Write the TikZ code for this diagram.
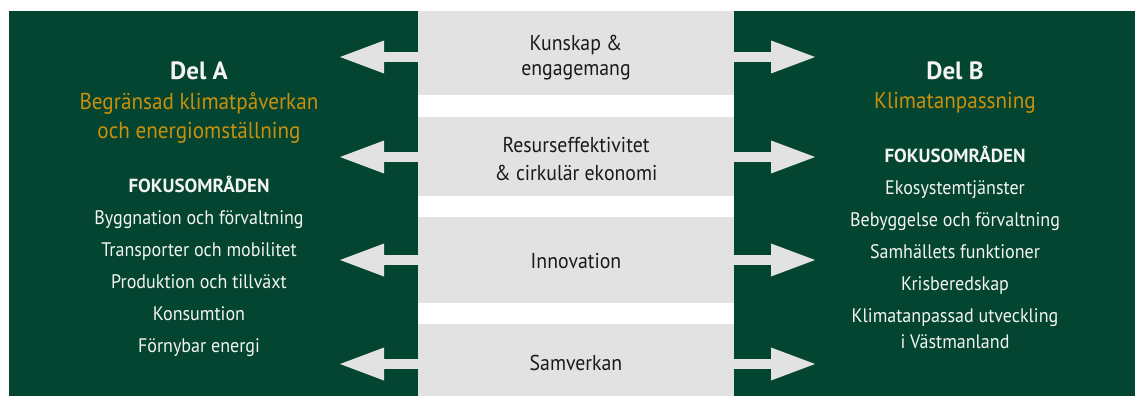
\documentclass[tikz,border=0pt]{standalone}
\usepackage{fontspec}
\setmainfont{PT Sans}
\newfontfamily\narrowsans{PT Sans}[FakeStretch=0.92]
\usetikzlibrary{arrows.meta}
\definecolor{deepgreen}{HTML}{034530}
\definecolor{bandgray}{HTML}{E2E2E2}
\definecolor{gold}{HTML}{C98F0D}
\definecolor{ink}{HTML}{1A1A1A}
\definecolor{paper}{HTML}{F4F4F4}

\begin{document}
\begin{tikzpicture}[x=1pt,y=-1pt,
  band/.style={fill=bandgray, draw=none, inner sep=0pt, outer sep=0pt, minimum width=316pt},
  bandtext/.style={anchor=base, text=ink, font=\narrowsans\fontsize{21.5}{25}\selectfont},
  head/.style={anchor=base, text=paper, font=\fontsize{25}{30}\selectfont\bfseries},
  sub/.style={anchor=base, text=gold, font=\narrowsans\fontsize{23}{27}\selectfont},
  caps/.style={anchor=base, text=paper, font=\fontsize{19}{23}\selectfont\bfseries},
  item/.style={anchor=base, text=paper, font=\narrowsans\fontsize{19.6}{24}\selectfont},
  flow/.style={draw=bandgray, line width=10.5pt,
    -{Triangle[length=44pt, width=33pt, line width=0pt]}}
]
% page and the two green panels
\fill[white] (0,0) rectangle (1135,396);
\useasboundingbox (0,0) rectangle (1135,396);
\fill[deepgreen] (9,11) rectangle (418,396);
\fill[deepgreen] (734,11) rectangle (1135,396);

% grey theme bands in the middle
\node[band, minimum height=84pt] (b1) at (576,53) {};
\node[band, minimum height=79pt] (b2) at (576,156.5) {};
\node[band, minimum height=86pt] (b3) at (576,260) {};
\node[band, minimum height=72pt] (b4) at (576,360) {};

\node[bandtext] (t1a) at (576,50.5) {Kunskap \&};
\node[bandtext] (t1b) at (576,76) {engagemang};
\node[bandtext] (t2a) at (576,152) {Resurseffektivitet};
\node[bandtext] (t2b) at (576,180) {\& cirkulär ekonomi};
\node[bandtext] (t3) at (576,268) {Innovation};
\node[bandtext] (t4) at (576,370) {Samverkan};

% arrow tips out to both parts
\coordinate (l1) at (340,57);  \coordinate (r1) at (815,57);
\coordinate (l2) at (340,157); \coordinate (r2) at (815,157);
\coordinate (l3) at (340,260); \coordinate (r3) at (815,260);
\coordinate (l4) at (340,364); \coordinate (r4) at (815,364);
\foreach \i in {1,2,3,4}{
  \draw[flow] (b\i.west |- l\i) -- (l\i);
  \draw[flow] (b\i.east |- r\i) -- (r\i);
}

% Del A
\node[head] (dela) at (199,80) {Del A};
\node[sub] (dela1) at (199,109) {Begränsad klimatpåverkan};
\node[sub] (dela2) at (199,138) {och energiomställning};
\node[caps] (fokA) at (199,192) {FOKUSOMRÅDEN};
\node[item] (a1) at (199,224) {Byggnation och förvaltning};
\node[item] (a2) at (199,256) {Transporter och mobilitet};
\node[item] (a3) at (199,288) {Produktion och tillväxt};
\node[item] (a4) at (199,320) {Konsumtion};
\node[item] (a5) at (199,352) {Förnybar energi};

% Del B
\node[head] (delb) at (955,80) {Del B};
\node[sub] (delb1) at (955,108) {Klimatanpassning};
\node[caps] (fokB) at (955,162) {FOKUSOMRÅDEN};
\node[item] (c1) at (955,194) {Ekosystemtjänster};
\node[item] (c2) at (955,226) {Bebyggelse och förvaltning};
\node[item] (c3) at (955,258) {Samhällets funktioner};
\node[item] (c4) at (955,290) {Krisberedskap};
\node[item] (c5) at (955,322) {Klimatanpassad utveckling};
\node[item] (c6) at (955,348) {i Västmanland};
\end{tikzpicture}
\end{document}
